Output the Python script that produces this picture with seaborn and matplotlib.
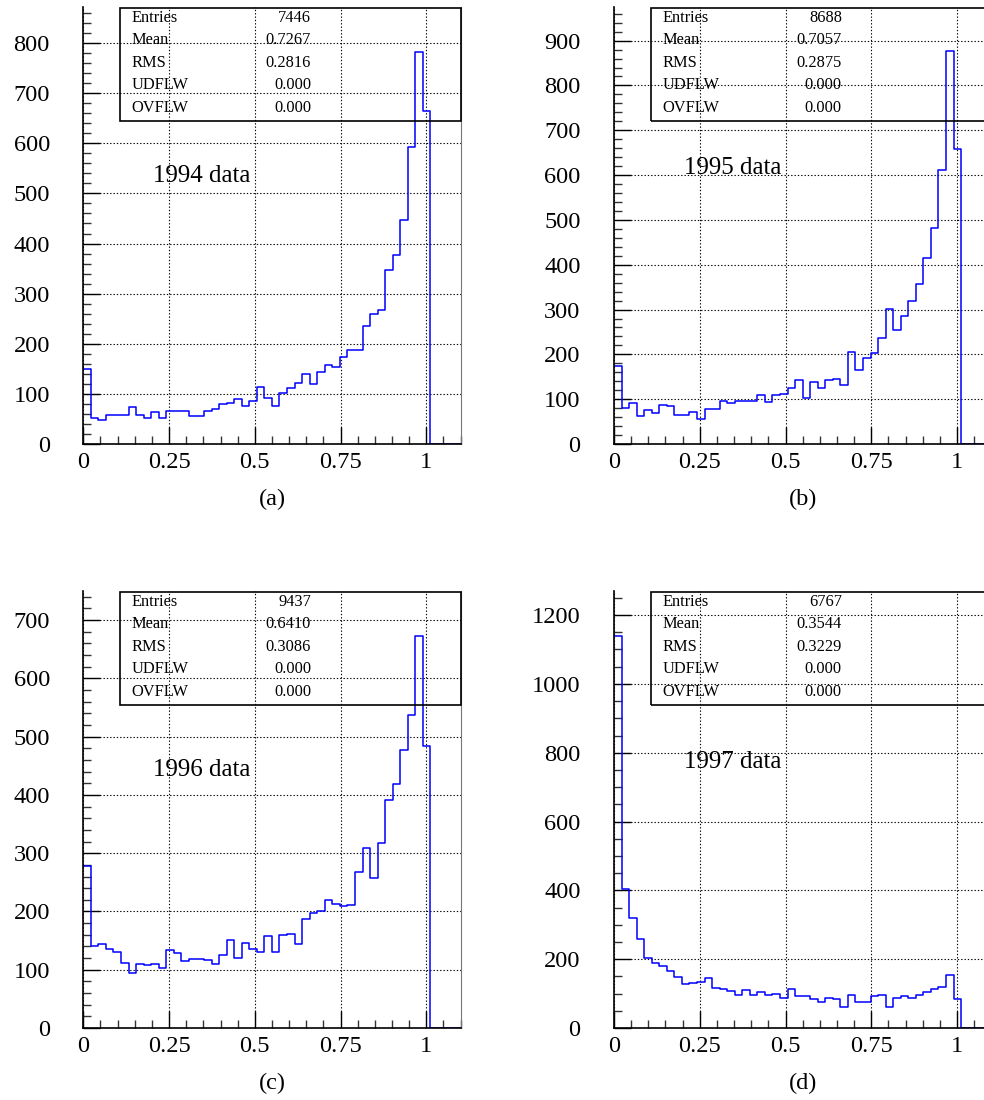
import numpy as np
import pandas as pd
import matplotlib
matplotlib.use("Agg")
import matplotlib.pyplot as plt
from matplotlib.ticker import MultipleLocator, FixedLocator
from matplotlib.patches import Rectangle
import seaborn as sns

# 50 bins on [0, 1.1]
n_bins = 50
x_range = (0.0, 1.1)

counts_1994 = [149, 51, 48, 57, 57, 58, 73, 58, 52, 63, 51, 65, 66, 66, 56, 55, 65, 69, 80, 82,
               89, 76, 86, 113, 91, 75, 101, 111, 121, 139, 120, 144, 158, 153, 173, 187, 188, 236, 260, 268,
               347, 378, 446, 593, 783, 665, 0, 0, 0, 0]
counts_1995 = [173, 81, 91, 63, 75, 69, 86, 85, 65, 65, 71, 56, 79, 77, 95, 91, 96, 97, 97, 109,
               93, 109, 112, 126, 143, 102, 138, 126, 143, 145, 132, 205, 164, 191, 204, 236, 302, 254, 286, 318,
               356, 414, 483, 612, 876, 658, 0, 0, 0, 0]
counts_1996 = [278, 140, 144, 136, 130, 112, 94, 109, 108, 110, 103, 134, 129, 115, 118, 119, 117, 109, 126, 151,
               120, 146, 135, 130, 158, 130, 160, 161, 144, 187, 197, 200, 219, 212, 210, 211, 268, 309, 258, 317,
               391, 419, 477, 537, 673, 484, 0, 0, 0, 0]
counts_1997 = [1140, 405, 319, 258, 203, 188, 180, 167, 147, 127, 132, 135, 144, 117, 113, 108, 96, 111, 96, 106,
               95, 98, 88, 112, 93, 93, 83, 75, 88, 83, 62, 97, 75, 75, 92, 97, 62, 86, 92, 86,
               96, 105, 112, 119, 155, 84, 0, 0, 0, 0]

panel_labels = ["(a)", "(b)", "(c)", "(d)"]
year_labels = ["1994 data", "1995 data", "1996 data", "1997 data"]
stat_names = ["Entries", "Mean", "RMS", "UDFLW", "OVFLW"]
stat_values = [
    ["7446", "0.7267", "0.2816", "0.000", "0.000"],
    ["8688", "0.7057", "0.2875", "0.000", "0.000"],
    ["9437", "0.6410", "0.3086", "0.000", "0.000"],
    ["6767", "0.3544", "0.3229", "0.000", "0.000"],
]
x_ticks = [0, 0.25, 0.5, 0.75, 1]
x_tick_labels = ["0", "0.25", "0.5", "0.75", "1"]
y_ticks = [np.arange(0, 801, 100), np.arange(0, 901, 100), np.arange(0, 701, 100), np.arange(0, 1201, 200)]
y_minor = [20, 20, 20, 50]
y_max = [872, 975, 750, 1270]
all_counts = [counts_1994, counts_1995, counts_1996, counts_1997]

sns.set_theme(style="ticks")
plt.rcParams["font.family"] = ["Liberation Serif", "DejaVu Serif"]

W, H = 984, 1100
fig = plt.figure(figsize=(W / 100, H / 100), dpi=100)

# axes frames in pixels: (left, bottom edge y from top)
frames = [(83.3, 444), (614.0, 444), (83.3, 1028), (614.0, 1028)]
ax_w, ax_h = 377.3, 437.0
year_y = [0.613, 0.632, 0.590, 0.609]

edges = np.linspace(x_range[0], x_range[1], n_bins + 1)
centers = 0.5 * (edges[:-1] + edges[1:])

for i, (lx, by) in enumerate(frames):
    ax = fig.add_axes([lx / W, 1 - by / H, ax_w / W, ax_h / H])
    df = pd.DataFrame({"x": centers, "w": all_counts[i]})
    sns.histplot(data=df, x="x", weights="w", bins=n_bins, binrange=x_range, element="step",
                 fill=False, color="#0000ff", linewidth=1.1, ax=ax)
    ax.set_xlim(0, 1.1)
    ax.set_ylim(0, y_max[i])
    ax.set_xlabel("")
    ax.set_ylabel("")

    ax.xaxis.set_major_locator(FixedLocator(x_ticks))
    ax.set_xticklabels(x_tick_labels)
    ax.xaxis.set_minor_locator(MultipleLocator(0.05))
    ax.yaxis.set_major_locator(FixedLocator(y_ticks[i]))
    ax.set_yticklabels([str(v) for v in y_ticks[i]])
    ax.yaxis.set_minor_locator(MultipleLocator(y_minor[i]))

    ax.tick_params(which="major", direction="in", length=12, width=1.0, colors="black",
                   labelsize=17.6, top=False, right=False)
    ax.tick_params(axis="y", which="major", pad=24)
    ax.tick_params(axis="x", which="major", pad=5.5)
    ax.tick_params(which="minor", direction="in", length=6, width=1.0, colors="#333333",
                   top=False, right=False)

    ax.grid(True, which="major", color="black", linestyle=(0, (1.2, 1.8)), linewidth=0.8)

    ax.spines["top"].set_visible(False)
    ax.spines["left"].set_linewidth(1.2)
    ax.spines["bottom"].set_linewidth(1.2)
    ax.spines["left"].set_color("black")
    ax.spines["bottom"].set_color("black")
    ax.spines["right"].set_color("#777777")
    ax.spines["right"].set_linewidth(0.8)

    # statistics box
    ax.add_patch(Rectangle((0.097, 0.739), 0.903, 0.259, transform=ax.transAxes,
                           fill=False, edgecolor="black", linewidth=1.2, clip_on=False, zorder=5))
    for k, (name, val) in enumerate(zip(stat_names, stat_values[i])):
        yy = 0.975 - k * 0.0515
        ax.text(0.128, yy, name, transform=ax.transAxes, ha="left", va="center",
                fontsize=11.8, color="black", zorder=6)
        ax.text(0.604, yy, val, transform=ax.transAxes, ha="right", va="center",
                fontsize=11.8, color="black", zorder=6)

    ax.text(0.185, year_y[i], year_labels[i], transform=ax.transAxes, ha="left", va="center",
            fontsize=18, color="black")
    ax.text(0.5, -0.128, panel_labels[i], transform=ax.transAxes, ha="center", va="center",
            fontsize=17.6, color="black")

fig.savefig("out.png", dpi=100, facecolor="white")
